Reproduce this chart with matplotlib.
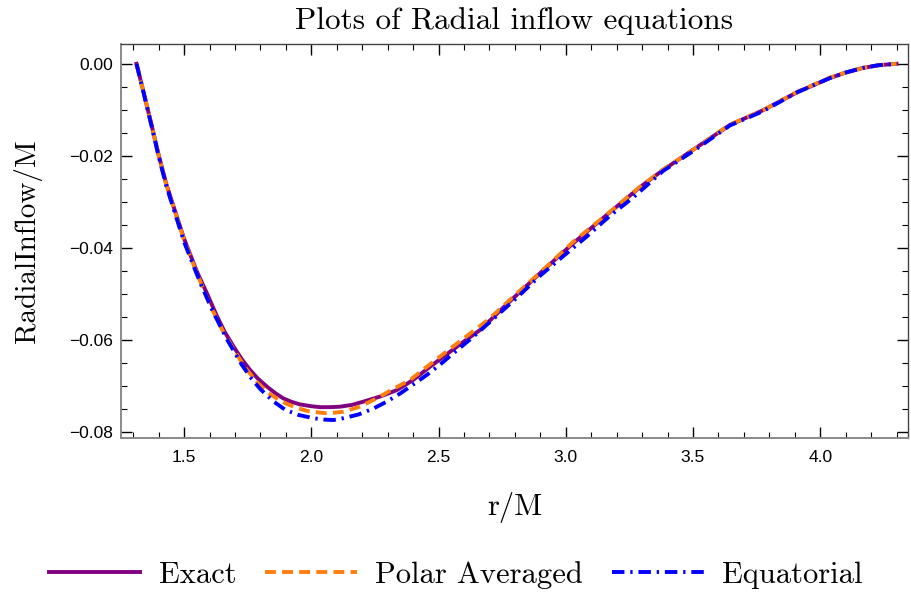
import numpy as np
import matplotlib.pyplot as plt
from matplotlib.ticker import MultipleLocator

# valeurs (r/M, RadialInflow/M)
r_exact = [1.313, 1.34, 1.37, 1.40, 1.43, 1.465, 1.50, 1.55, 1.59, 1.628, 1.66, 1.694, 1.727,
           1.759, 1.79, 1.825, 1.857, 1.89, 1.92, 1.955, 2.0, 2.034, 2.074, 2.113, 2.16, 2.205,
           2.27, 2.336, 2.40, 2.467, 2.53, 2.598, 2.664, 2.769, 2.899, 3.029, 3.162, 3.292,
           3.382, 3.516, 3.645, 3.775, 3.909, 4.038, 4.10, 4.168, 4.23, 4.30]
v_exact = [0.0, -0.0060, -0.0128, -0.0198, -0.0261, -0.0321, -0.0380, -0.0451, -0.0499,
           -0.0547, -0.0583, -0.0614, -0.0642, -0.0665, -0.0684, -0.0701, -0.0715, -0.0727,
           -0.0734, -0.0740, -0.0744, -0.0746, -0.0746, -0.0745, -0.0741, -0.0734, -0.0723,
           -0.0709, -0.0687, -0.0658, -0.0632, -0.0604, -0.0578, -0.0522, -0.0455, -0.0390,
           -0.0328, -0.0268, -0.0231, -0.0181, -0.0133, -0.0101, -0.0062, -0.0031, -0.0019,
           -0.0009, -0.0003, 0.0]

r_polar = [1.313, 1.34, 1.37, 1.40, 1.43, 1.465, 1.50, 1.55, 1.60, 1.65, 1.694, 1.74, 1.79,
           1.84, 1.90, 1.94, 1.982, 2.02, 2.054, 2.09, 2.126, 2.19, 2.257, 2.32, 2.388, 2.45,
           2.506, 2.565, 2.624, 2.70, 2.79, 2.91, 3.029, 3.162, 3.292, 3.382, 3.516, 3.645,
           3.775, 3.909, 4.038, 4.10, 4.168, 4.23, 4.30]
v_polar = [0.0, -0.0060, -0.0129, -0.0199, -0.0263, -0.0323, -0.0383, -0.0455, -0.0522,
           -0.0578, -0.0620, -0.0660, -0.0694, -0.0719, -0.0738, -0.0747, -0.0754, -0.0757,
           -0.0759, -0.0758, -0.0756, -0.0745, -0.0727, -0.0707, -0.0687, -0.0660, -0.0636,
           -0.0611, -0.0586, -0.0554, -0.0508, -0.0448, -0.0387, -0.0327, -0.0267, -0.0230,
           -0.0181, -0.0132, -0.0101, -0.0061, -0.0030, -0.0019, -0.0009, -0.0003, 0.0]

r_equat = [1.313, 1.34, 1.37, 1.40, 1.43, 1.465, 1.50, 1.563, 1.615, 1.668, 1.727, 1.765,
           1.80, 1.85, 1.898, 1.95, 2.008, 2.05, 2.087, 2.126, 2.185, 2.244, 2.30, 2.35, 2.40,
           2.454, 2.505, 2.558, 2.637, 2.72, 2.808, 2.90, 2.99, 3.083, 3.174, 3.264, 3.382,
           3.516, 3.645, 3.775, 3.909, 4.038, 4.10, 4.168, 4.23, 4.30]
v_equat = [0.0, -0.0061, -0.0130, -0.0201, -0.0265, -0.0326, -0.0387, -0.0475, -0.0540,
           -0.0598, -0.0654, -0.0684, -0.0707, -0.0733, -0.0752, -0.0763, -0.0770, -0.0773,
           -0.0774, -0.0770, -0.0762, -0.0749, -0.0733, -0.0716, -0.0697, -0.0676, -0.0654,
           -0.0629, -0.0593, -0.0552, -0.0508, -0.0460, -0.0418, -0.0375, -0.0330, -0.0291,
           -0.0233, -0.0184, -0.0134, -0.0103, -0.0062, -0.0031, -0.0019, -0.0009, -0.0003, 0.0]

fig = plt.figure(figsize=(9.11, 5.93), dpi=100)
ax = fig.add_axes([0.1328, 0.2614, 0.8639, 0.6644])

ax.plot(r_exact, v_exact, color='purple', lw=2.8, label='Exact', solid_joinstyle='round')
ax.plot(r_polar, v_polar, color='#ff7f0e', lw=2.8, dashes=(2.8, 1.6), label='Polar Averaged')
ax.plot(r_equat, v_equat, color='blue', lw=2.8, dashes=(3.2, 1.5, 0.6, 1.5), label='Equatorial')

ax.set_xlim(1.252, 4.345)
ax.set_ylim(-0.0813, 0.0043)
ax.xaxis.set_major_locator(MultipleLocator(0.5))
ax.xaxis.set_minor_locator(MultipleLocator(0.1))
ax.yaxis.set_major_locator(MultipleLocator(0.02))
ax.yaxis.set_minor_locator(MultipleLocator(0.005))
ax.yaxis.set_major_formatter(plt.FuncFormatter(lambda v, p: ('\u2212' if v < -1e-9 else '') + '%.2f' % abs(v)))
ax.xaxis.set_major_formatter(plt.FuncFormatter(lambda v, p: '%.1f' % v))
ax.tick_params(which='both', direction='in', top=True, right=True, labelsize=12.5,
               labelfontfamily='Liberation Sans')
ax.tick_params(axis='x', pad=9)
ax.tick_params(axis='y', pad=5.5)
ax.tick_params(which='major', length=8, width=1)
ax.tick_params(which='minor', length=4, width=0.8)
for side in ['left', 'bottom']:
    ax.spines[side].set_color('#8a8a8a')
    ax.spines[side].set_linewidth(1.4)
for side in ['top', 'right']:
    ax.spines[side].set_color('#444444')
    ax.spines[side].set_linewidth(1.0)

ax.set_title('Plots of Radial inflow equations', fontfamily='cmr10', fontsize=22.5, pad=11)
ax.set_xlabel('r/M', fontfamily='cmr10', fontsize=22, labelpad=19)
ax.set_ylabel('RadialInflow/M', fontfamily='cmr10', fontsize=21, labelpad=20)

fig.legend(loc='center', bbox_to_anchor=(0.5, 0.031), ncol=3, frameon=False,
           prop={'family': 'cmr10', 'size': 22}, handlelength=3.0, handletextpad=0.6,
           columnspacing=0.95)

fig.savefig('out.png', dpi=100)
